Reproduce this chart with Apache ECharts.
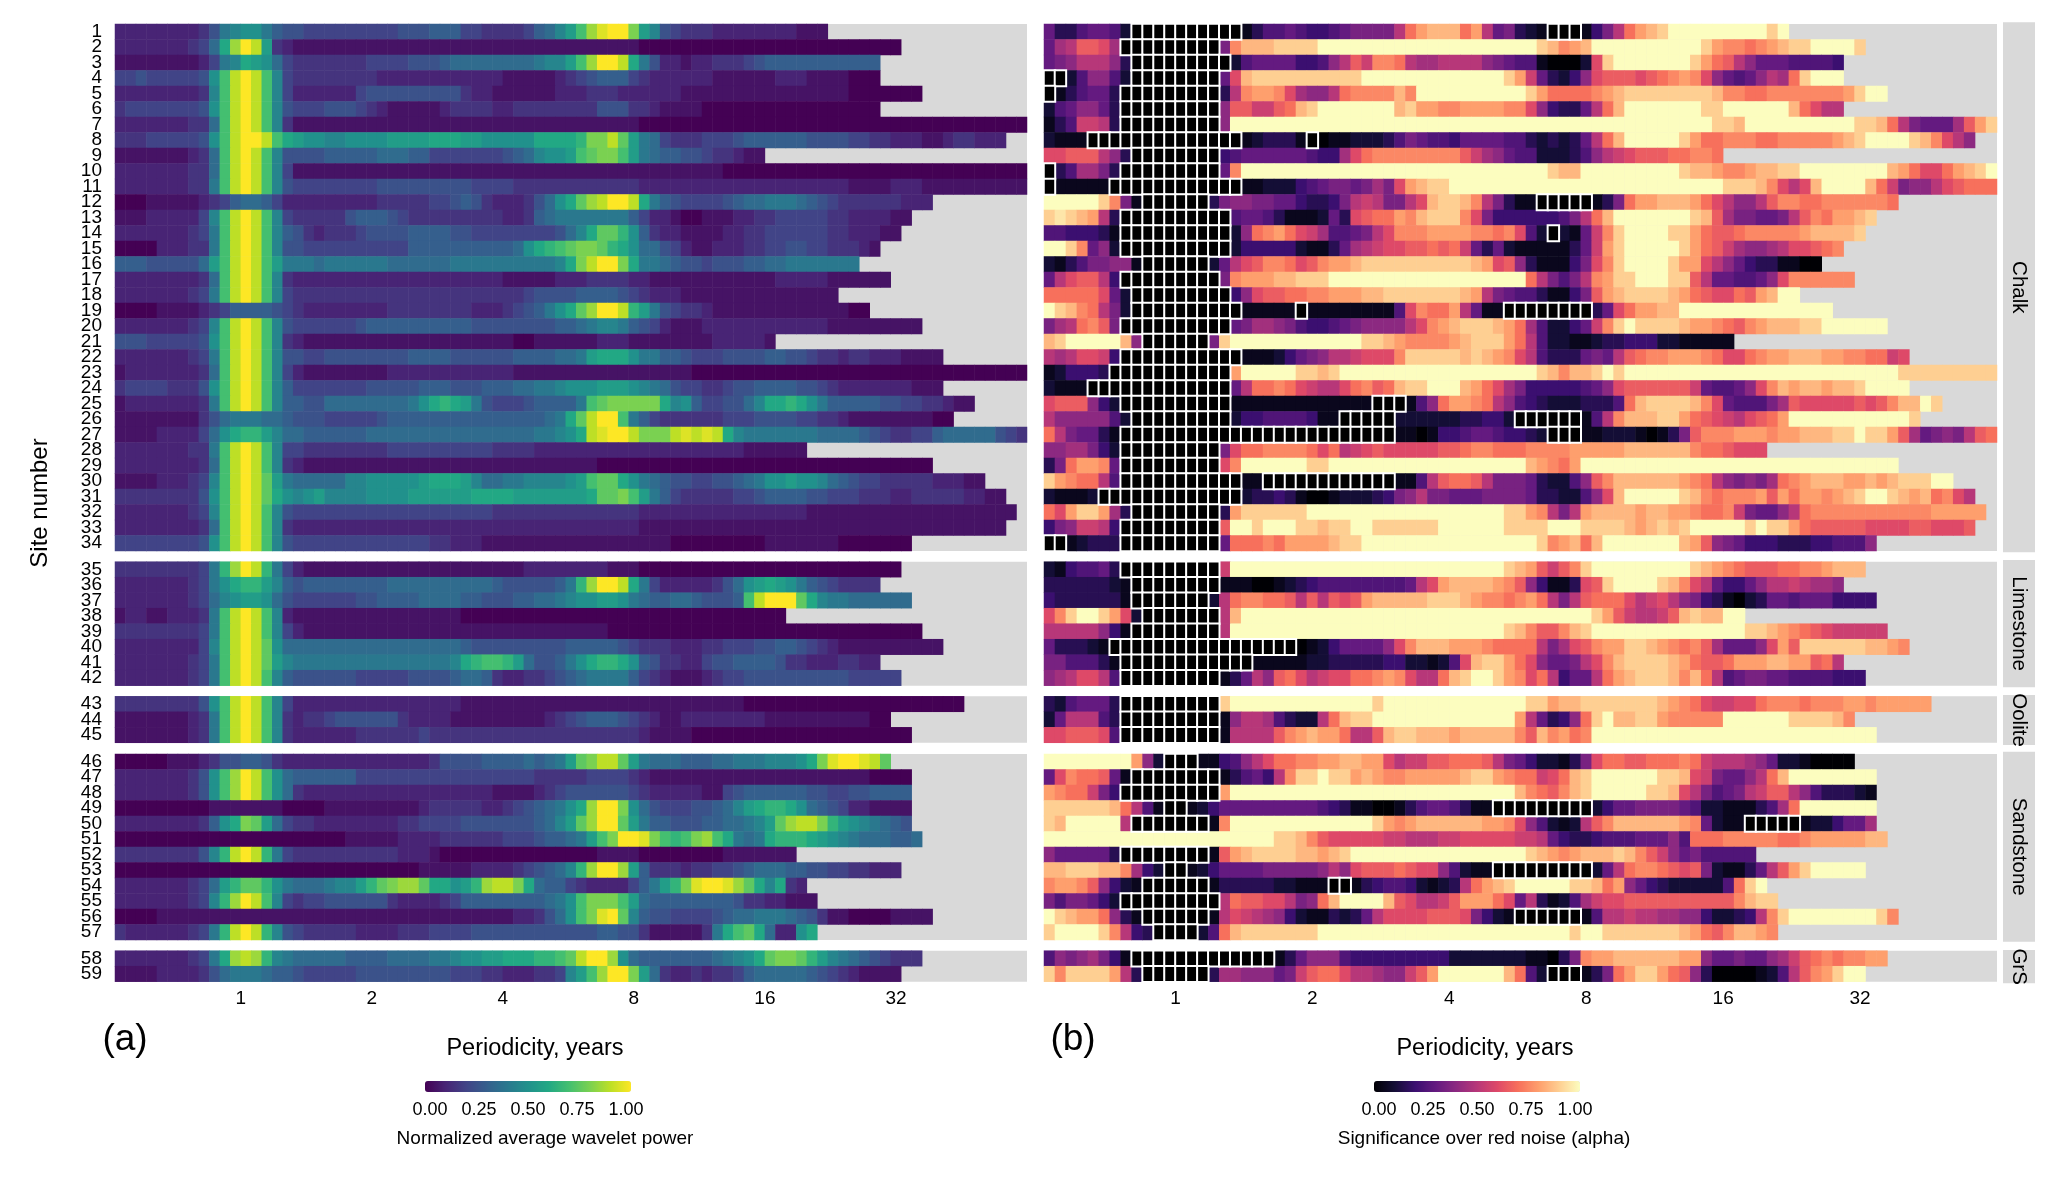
<!DOCTYPE html>
<html><head><meta charset="utf-8">
<style>html,body{margin:0;padding:0;background:#fff}#c{width:2067px;height:1178px}</style>
<script src="https://cdn.jsdelivr.net/npm/echarts@6/dist/echarts.min.js"></script>
</head><body><div id="c"></div>
<script>
// Cell values are stored as base-21 digits: 0..9,a..k means 0.00 .. 1.00 in steps of 0.05.
const LEVELS = '0123456789abcdefghijk';
const facetNames = ['Chalk','Limestone','Oolite','Sandstone','GrS'];
const facetSizes = [34,8,3,12,2];
const periodTicks = [1,2,4,8,16,32];
const legendTicks = ['0.00','0.25','0.50','0.75','1.00'];
const powerRows = [
"2222222235 89aa865544 4444444555 6664433334 679behjkkg b954333222 22222111",
"2222222347 chkib32111 1111111111 1111111111 1111111111 0000000000 0000000000 00000",
"1111111124 89cba74333 3333444455 5677777777 899behkkic 8522122333 4566666666 666",
"445444445a eikie94333 3333322222 2222222111 1123456664 3222222111 1112221111 000",
"2222222239 eikie94222 2224555555 5553221111 1122233322 2222111111 1111111111 0000000",
"344444445a eikie95444 5554321111 1233332233 3333335553 3211110000 0000000000 000",
"2222222337 eikie93111 1111111111 1111111111 1111111111 0000000000 0000000000 0000000000 0000000",
"333444445a eikkiecbaa 99aaaabbbb cccbbaaaaa ccccdggifb 8743334445 6666665555 4433222112 33222",
"1111111237 eikie95555 6666677766 4444444567 9aabefggeb 8766554332 11",
"2222222337 eikie94111 1111111111 1111111111 1111111111 1111111100 0000000000 0000000000 0000000",
"2222222338 eikie95444 4444455555 5555444433 3333333333 2222222222 2222222222 1111222111 1111111",
"0001111123 4677642222 2222233333 4456532223 57acfhikki c865444456 7788876543 33333222",
"1112222249 eikie94333 3356665433 3333333223 6788888886 4221001112 2334444433 222211",
"2222222348 eikie96532 3334555566 6655444444 44579cffda 6322111122 3344444433 22211",
"0000222338 eikie95544 4444444466 666666667a cdefggfdca 7754211222 3344554433 321",
"666555557b eikieb8887 8888887777 7788888888 889cgikkgc 8876554555 6677888888 8",
"2222222237 eikie93222 2222222222 2222222111 1122233332 2111111111 1112222211 1111",
"2222222348 eikie94333 3333333333 3333333334 5555666654 3222111111 111111111",
"0000111123 4666654322 2222223333 3333222345 68acfhkkid b854332111 1111111111 00",
"2222222349 eikie95444 4445666666 6666555555 5566789986 5421112222 2222222211 1111111",
"555444445a eikie93211 1111111111 1111111100 1111112221 1111111222 221",
"2222222348 eikie95544 5555555566 6655555566 66778bccca 8866544455 5566554332 332221111",
"1222222237 eikie94211 1111112222 2222222211 1111111111 1111100000 0000000000 0000000000 0000000",
"344443335a eikie96444 4444555556 6655566677 889aaabbba 9875443345 5666655432 222222111",
"1222222238 eikie96655 777777778a cdcb854445 66668efggg ggc9a64455 79ccdca866 6665544332 11",
"1111111135 7888776555 4444456666 6666666666 678cfikke8 6433333344 4555544332 1111111100",
"1111222247 acddb97766 6666777777 7777777777 889acijkki gggijijic9 8888888777 7654334467 7777543",
"2222222338 eikie94433 3333334444 4444443333 2222222222 2222222222 111111",
"2222222237 eikie93211 1111111111 1111111111 1111110000 0000000000 0000000000 00000000",
"1111222349 eikifb8777 7799aaaaab cccb977889 999abeffca 8765544556 78aabaa976 5443333322 211",
"333333335a eikifca9ab 9999aaaabb bbbbccccbb bbbbbcffge b864333334 4566665544 4333223333 32211",
"2222222349 eikie95444 4444444444 4444443333 3333333333 2222222222 2222221111 1111111111 111111",
"2222222237 eikie93222 2222222222 2222222222 2222222222 1111111111 1111111111 1111111111 11111",
"444444445a eikie95444 4444444444 3322211111 1111111111 1110000000 0011111110 000000",
"3333333348 dhkid84211 1111111111 1111111112 2222222111 0000000000 0000000000 00000",
"2222222348 acddb96566 6666667777 7777776555 5568dhkkic 8422222357 abcba86543 333",
"2222222347 9abba75444 4445566667 7776655566 7789aabba8 7667765556 eikkkfc988 777777",
"1221122238 eikie92111 1111111111 1110000000 0000000000 0000000000 0000",
"3333333348 eikie94211 1111111111 1111111111 1111111000 0000000000 0000000000 0000000",
"2222222249 eikifa7777 7777777777 7776555555 5556666654 3332223344 4556654321 111111111",
"2222222348 eikifb9888 8888888888 889cdeedb7 5568acddca 6533224556 6665332223 322",
"2222222348 eikie96555 5554444455 5567763223 3456788886 4321112344 5555555555 44444",
"333333335a eikie94222 2222222222 2221111111 1111111111 1111111111 0000000000 0000000000 0",
"1111111238 eikie93233 4555555322 2211111111 1234566654 3211222222 2211111111 1100",
"1111111238 eikie93222 2223333334 3333333333 3333333333 2111100000 0000000000 000000",
"0000011123 5566532222 2222222222 3555566667 678bfgiifb 8777666778 88999acgjk kjif",
"222222235a ehkiea7666 6664444444 4444444444 3333344443 2111111111 1111111111 110000",
"222222235a ehkiea7322 2222222222 2222221111 2345555554 3222221145 6666665544 556666",
"0000000001 1111110000 1111111112 3333322345 678achkkga 7544455679 bcddca7654 221111",
"2222222236 acgfb74332 2222222334 4445555555 679bfhkkfb 8665556677 89bfhiigdb a98765",
"0000000000 0000000000 0011111222 2333333444 56678begkk jgedeghec8 78cdddcba9 8777667",
"3333333359 dikid84333 3333333222 1000000000 0000001111 0000000011 11111",
"0000000000 0000000000 0000000001 1111222234 5679dhkkhb 6333233445 6777665544 33222",
"2222222347 bdffda8777 899bdfghhf ccabdhiigc 7664322224 68bdgjkkjh fc9c32",
"2222222349 dhkie94344 5555553222 2346666666 678aegggeb 7666666665 3322111",
"0000111111 1111111111 1111111111 1111111122 357aegjkf9 6554444567 7888765311 00001111",
"3222222348 dikid95433 3332222333 4444555555 5555556655 31111138ce fc722ac",
"2222222348 chihd98777 7766667777 889aabbccc ddefikkha7 6666666789 acfggfdb98 7654333",
"1111222235 7888766544 4445555555 5544433222 3349behkkg b732232334 6777776543 21111"
];
const alphaRows = [
"6335665200 0000000013 5565445677 77aeghhheg a673210001 47aeghikkk kkkkkkik",
"69addc9000 0000007fhh hiiiikkkkk kkkkkkkkkk kkkkkihfgh kkkkkkkkkk igffefghii kkkki",
"678aaa8300 0000000256 6664458adb ffea99aaaa 8765510002 cikkkkkkki geda866655 554",
"0025885200 0000006chi iiiiiiiiik kkkkkkkkkk kkigb63248 cdddcdefgf c86568a9ei kkk",
"0135663000 0000003afg gfc988aeff ffhfkkkkkk kkkkigeeee fghiiiiiii ihffeeffff fffgikk",
"2568863000 0000008ddb bdehikkkkk kkhiggffgg ggffc84336 aehkkkkkkk iikkkkkkhe caa",
"135bba3000 0000008kkk kkkkkkkkkk kkkkkkkkkk kkkkkkkkkk kkkkkkkkkk kiihkkkkkk kkkkiihea7 6669dgi",
"2111000000 0000000012 3331001122 2357655466 6655323236 aehkkkkkig eefffeefff ffghikkkki hfca8",
"ccddda8300 0000004566 66665449ce ffffffffdb 9865522235 8abcdddeef fe",
"0359973000 0000006fkk kkkkkkkkkk kkkkkkkkkk kkkkkkihhk kkkkkkkkih hgffghhiik kkkkkkkhge ccegh ik",
"0111110000 0000000011 2224567767 97cghiikkk kkkkkkkkkk kkkkkkkkkk kkiiihfcac hkkkkheb78 8acdeee",
"kkkkkif710 0000037887 76643347ab a77achiihf a731100000 137egghhhg eca88adffe effffffe",
"ijihga3000 0000000566 53111263cd eegfhiiifc 744444457a ehkkkkkkki hd977667ad fegghi",
"5544431000 000000028e fgecb95567 acfffggggf fefc520216 bfikkkkiig eddefffffg hhhhi",
"kkif682000 0000000244 444211369a bccddedeb6 3621111136 bgikkkkkig edb9889acc def",
"2135778810 0000026acd ffecdfgghi iiiiiiiiih gcd8311147 cfikkkkigg ca86433110 0",
"6acdda4000 0000007fgg ghhiiikkkk kkkkkkkkkk kkkkea757a fgiikkkiid a665568cff ffff",
"eeeeec6200 000000048c ddeeffgggh hiiiiiiihg a765531147 dghiiiihge dccedghkk",
"kihfea7200 0000000011 1110111111 115cfeega6 1100000000 36cegghhkk kkkkkkkkkk kk",
"79aefd7000 0000000679 9875445678 888acfghii ihge952246 bfikiiiihg gfedfghhhi ikkkkkk",
"hikkkkkh80 000007ikkk kkkkkkkkki ihgffffghi iigea52211 2334442211 111",
"a9accb4000 0000000011 124678aabc ccfiiiiihi hgfca53336 76adeffggg feccefgghh hggffeebc",
"1244430000 0000000gkk kkkiihikkk kkkkkkkkkk kkkkkihfhh ikikkkkkkk kkkkkkkkkk kkkkkkkkii iiiiiii",
"2111000000 00000006ae efecbaacef dehiikkkhg ec97444445 68cddddddb 65568cfhgh hghhikkkk",
"cddd842000 0000000111 1111111111 000158eggf ea85432223 335ehiiiih fc655579dc ccccdcdfhh ki",
"a888885200 0000000244 5555411000 0022222233 4420000001 5afhhhiige dcbacdegkk kkkkkkkkki",
"ea76631000 0000000000 0000000000 0011014456 6544320001 122210137d fffgggfggh hhiikiigd9 6787ade",
"8899742000 0000007cee ffffeceabc dcccccddef feeeffffgg ggghhhhhhf eedccc",
"37eggf6000 000000cfkk kkkkiikkkk kkkkkkkkkk kkkkhgfegk kkkkkkkkkk kkkkkkkkkk kkkkkkkk",
"igfeea5000 0000000011 0000000000 00115adeed a777632258 dfhhhhhhgf ea87879efg hhhgghghii ikk",
"2111200000 0000000023 3431001222 3478a77666 7777633225 8chkkkkkih fefffgdgeg gfghikkihg hefca",
"ecgiig9300 0000003gii iiiikkkkkk kkkkkkkkkk kkiigfa7ag hhhhghhggf eefb7668ae ffffffffff fggggg",
"478bba4000 000000dkki kkkiihiikk iiiiiikkkk kkiiiikkki iiihghihik kkkkikiige dddddccccd dcccd",
"0012333000 0000006eee fegggghiik kkkkkkkkkk kkkkkifghe hkkkkkkkhg d876444333 445558",
"2145563000 000000bkkk kkkkkkkkkk kkkkkkkkkk kkihgdbdfi kkkkkkkkki hgfedddeef fghhh",
"3333332100 0000001110 0123455555 5556acghhh hgfd84113c dikkkkihfc a64468aaba 998",
"4333333100 000002aeff eedadadcdg hhhhhiiihg ffefgea7ad eeecabca87 4310236656 664444",
"cfikkigc20 000000ahkk kkkkkkkkkk kkkkkkkkkk kkkkkkkkkk igdbaabdhi hhkk",
"aaaaa84100 000000akkk kkkkkkkkkk kkkkkkkkkk kkihfddfhi kkkkkkkkkk kkkkiihgfe dcbbbbb",
"6333210000 0000000000 0000124666 68cfhhhggg feeeea79cd fggiihgfef d96668cgdi iiiiihhgf",
"7755531000 0000000001 1111223333 34422125ch iigec8667a cfhiiiihge ddeggghhgg dea",
"89acca5000 000000136a 8decabccee fgfcaaehik kigfcea466 aeghiiihfh ea56776655 55444",
"3256663000 000000ikkk kkkkkkkkkk ikkkkkkkkk kkkkiighhi iiiiiihgfe cbbccefffe fffggfgggg g",
"26aaa53000 00000018aa 95322aehii kkkkkkkkkk kkkga6348e ikhhiigfff ffkkkkkkii iihf",
"ccdddc5000 0000001aaa adfghggeaa dhiihhhghh hhhfdhfgef kkkkkkkkkk kkkkkkkkkk kkkkkk",
"kkkkkkkkg8 200011458a ceeffgghhg gcabbddeee da76422137 ceeddeeefe baaa986221 0000",
"6cfeed6100 0000001356 4afiikiigh gffggggghi igfeebcehi kkkkkkiihc b7668aehkk kkkkkk",
"gfeeb74000 000000gkkk kkkkkkkkkk kkkkkkkkkk kkkhfedfhi kkkkkiihca 7567abdda8 533321",
"iiiiiihea5 1001246666 6666654311 0013566531 1000000000 2466777765 22111359ek kkkkkk",
"ihkkkkka00 000001fkkk kkkkkkkkkk igfghhhhhh ggfc85212a dfhhhhhhgf 6211000001 224669",
"kkkkkkkkkk kkkkkkkkkk kiihfdcccc cbbaaabbcc cccbba6433 455566685e eefffffeef ggggghh",
"8666663000 000001dghi iiihhghikk kkkkkkkkkk kkkkihgfgh hhihfdb867 55555",
"hhiiihhf94 2001246666 777778a8cd ddedcc8521 1000000000 26aeffedcd 721136adgi kkkkk",
"fggfd84210 0000013333 3221110013 45542123ae ghikkkkkii heg8643222 225eik",
"7577642000 000000aedd cca78ehkkk khdcaabdgg gec6a31259 bccddddddd dddfhii",
"kihgge8310 000001acba 9842113236 accccdddc7 4210000001 5aabaa9988 42234afikk kkkkkkif",
"ikkkkifa43 000025ehii iiiiikkkkk kkkkkkkkkk kkkkkkkkik kiiiiiiihg edfhhgf",
"5878974100 0000000000 0136888544 4444444222 222211037f gghhhhhhgg 86676689bd efeffgg",
"ifiiiiga30 0000039988 867bdeecaa 988bdgkkkk kkhe520001 37egiiged8 30000125ad fgikk"
];
// [site number, first column, last column] of the cells flagged as significant
const significantRuns = [
[1,8,17],[1,46,48],[2,7,15],[3,8,16],[4,0,1],[4,8,15],[5,0,0],[5,7,15],[6,7,15],[7,7,15],
[8,4,17],[8,24,24],[9,8,15],[10,0,0],[10,7,15],[11,0,0],[11,6,17],[12,9,14],[12,45,49],
[13,7,16],[14,7,16],[14,46,46],[15,7,16],[16,9,14],[17,7,15],[18,8,16],[19,8,17],[19,23,23],[19,42,49],
[20,7,16],[21,9,14],[22,7,17],[23,6,16],[24,4,16],[25,7,16],[25,30,32],[26,8,16],[26,27,31],[26,43,48],
[27,7,31],[27,46,48],[28,7,15],[29,7,15],[30,7,17],[30,20,31],[31,5,17],[32,8,15],[33,7,15],[34,0,1],[34,7,15],
[35,7,15],[36,8,15],[37,8,14],[38,9,15],[39,8,15],[40,6,22],[41,7,18],[42,7,15],
[43,7,15],[44,7,15],[45,7,15],
[46,11,13],[47,8,15],[48,7,15],[49,11,12],[49,41,49],[50,8,14],[50,64,68],[52,7,14],[53,11,12],[53,41,49],
[54,9,14],[54,26,27],[55,7,15],[56,9,14],[56,43,48],[57,10,13],[58,8,20],[59,9,14],[59,46,48]
];
const viridis = ['#440154','#482475','#414487','#355f8d','#2a788e','#21918c','#22a884','#44bf70','#7ad151','#bddf26','#fde725'];
const magma = ['#000004','#140e36','#3b0f70','#641a80','#8c2981','#b73779','#de4968','#f7705c','#fe9f6d','#fecf92','#fcfdbf'];

const FONT = '"Liberation Sans", Arial, sans-serif';
const COLS = 87, ROW_H = 15.5;
const columns = Array.from({length:COLS},(_,i)=>String(i));
const panels = [
  {left:115, width:912, bar:425, label:'Normalized average wavelet power', capX:545, titleX:535, tag:'(a)', tagX:125, rows:powerRows, colors:viridis},
  {left:1044, width:953, bar:1374, label:'Significance over red noise (alpha)', capX:1484, titleX:1485, tag:'(b)', tagX:1073, rows:alphaRows, colors:magma}
];
const facetTops = [24,561.7,696.3,754,950.7];
const stripBoxes = [[22.3,552.3],[560,687.3],[695,745],[751.7,941.7],[950,983.3]];
const STRIP_X = 2003;

const decode = s => s.replace(/ /g,'').split('').map(c=>LEVELS.indexOf(c)/20);
const grid=[],xAxis=[],yAxis=[],series=[],visualMap=[],graphic=[];
function text(t,x,y,size,extra){
  return Object.assign({type:'text',x,y,silent:true,style:{text:t,fill:'#000',font:size+'px '+FONT,textAlign:'center',textVerticalAlign:'middle'}},extra||{});
}
panels.forEach((p,pi)=>{
  const matrix = p.rows.map(decode);
  let start=0;
  const heatIdx=[];
  facetSizes.forEach((n,fi)=>{
    const gi=grid.length;
    grid.push({left:p.left,top:facetTops[fi],width:p.width,height:n*ROW_H,show:true,backgroundColor:'#D9D9D9',borderWidth:0});
    xAxis.push({gridIndex:gi,type:'category',data:columns,show:false});
    const sites=[];for(let i=0;i<n;i++)sites.push(String(start+i+1));
    yAxis.push({gridIndex:gi,type:'category',data:sites,inverse:true,show:pi===0,
      axisLine:{show:false},axisTick:{show:false},splitLine:{show:false},
      axisLabel:{show:pi===0,interval:0,margin:13,fontFamily:FONT,fontSize:19,color:'#000'}});
    const cells=[];
    for(let r=0;r<n;r++)matrix[start+r].forEach((v,c)=>cells.push([c,r,v]));
    heatIdx.push(series.length);
    series.push({type:'heatmap',xAxisIndex:gi,yAxisIndex:gi,data:cells,progressive:0,animation:false,silent:true,emphasis:{disabled:true},itemStyle:{borderWidth:0}});
    start+=n;
  });
  visualMap.push({type:'continuous',seriesIndex:heatIdx,dimension:2,min:0,max:1,orient:'horizontal',left:p.bar,top:1081,
    itemWidth:11,itemHeight:206,padding:0,calculable:false,realtime:false,hoverLink:false,inRange:{color:p.colors},text:null,textStyle:{fontSize:0}});
  legendTicks.forEach((t,i)=>graphic.push(text(t,p.bar+5+i*49,1110,18)));
  graphic.push(text(p.label,p.capX,1139,19));
  graphic.push(text('Periodicity, years',p.titleX,1049,23.5));
  graphic.push(text(p.tag,p.tagX,1040,37));
});
// period axes under the last facet of each panel
[4,9].forEach(gi=>{
  xAxis.push({gridIndex:gi,type:'value',position:'bottom',min:-0.96,max:6,
    axisLine:{show:false},axisTick:{show:false},splitLine:{show:false},
    axisLabel:{margin:8,fontFamily:FONT,fontSize:19,color:'#000',
      customValues:periodTicks.map(Math.log2),formatter:v=>String(Math.round(Math.pow(2,v)))}});
});
// significant cells: black tiles with a white outline, drawn from the same category axes
facetSizes.forEach((n,fi)=>{
  const first=facetSizes.slice(0,fi).reduce((a,b)=>a+b,0);
  const cells=[];
  significantRuns.forEach(([site,a,b])=>{
    const r=site-1-first;
    if(r>=0&&r<n)for(let c=a;c<=b;c++)cells.push([c,r,0]);
  });
  series.push({type:'heatmap',xAxisIndex:5+fi,yAxisIndex:5+fi,data:cells,progressive:0,animation:false,silent:true,emphasis:{disabled:true},
    itemStyle:{color:'#000',borderColor:'#fff',borderWidth:2}});
});
facetNames.forEach((name,i)=>{
  const [a,b]=stripBoxes[i];
  graphic.push({type:'rect',silent:true,shape:{x:STRIP_X,y:a,width:32,height:b-a},style:{fill:'#D9D9D9'}});
  graphic.push(text(name,STRIP_X+16,(a+b)/2,20.5,{rotation:-Math.PI/2}));
});
graphic.push(text('Site number',40,503,24,{rotation:Math.PI/2}));
const chart=echarts.init(document.getElementById('c'),null,{renderer:'canvas'});
chart.setOption({animation:false,backgroundColor:'#fff',grid,xAxis,yAxis,visualMap,series,graphic:{elements:graphic}});
</script></body></html>
